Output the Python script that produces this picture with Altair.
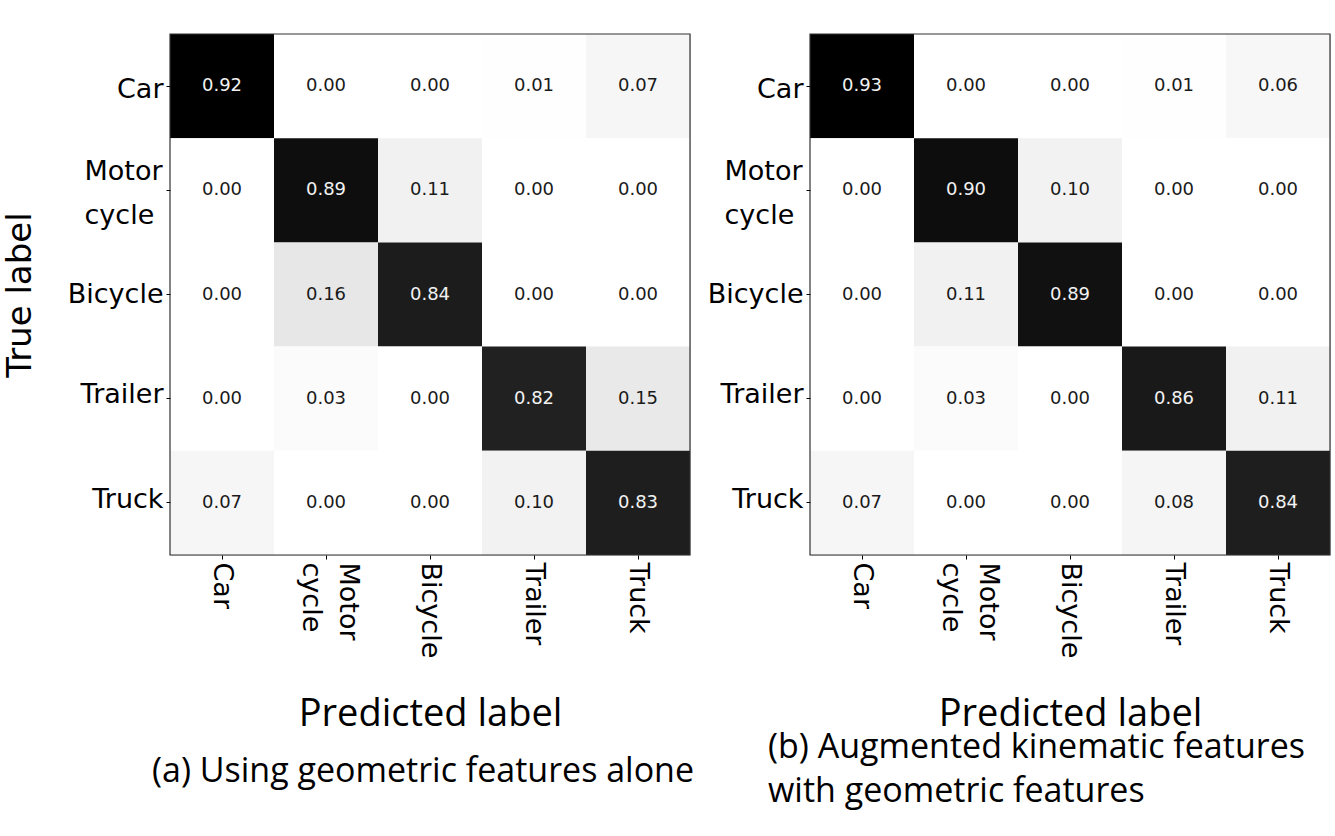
import altair as alt
import pandas as pd

classes = ["Car", "Motorcycle", "Bicycle", "Trailer", "Truck"]

cm_geometric = [
    [0.92, 0.00, 0.00, 0.01, 0.07],
    [0.00, 0.89, 0.11, 0.00, 0.00],
    [0.00, 0.16, 0.84, 0.00, 0.00],
    [0.00, 0.03, 0.00, 0.82, 0.15],
    [0.07, 0.00, 0.00, 0.10, 0.83],
]

cm_augmented = [
    [0.93, 0.00, 0.00, 0.01, 0.06],
    [0.00, 0.90, 0.10, 0.00, 0.00],
    [0.00, 0.11, 0.89, 0.00, 0.00],
    [0.00, 0.03, 0.00, 0.86, 0.11],
    [0.07, 0.00, 0.00, 0.08, 0.84],
]

caption_a = "(a) Using geometric features alone"
caption_b = ["(b) Augmented kinematic features", "with geometric features"]

# ColorBrewer / matplotlib "Greys" ramp
greys = ["#ffffff", "#f0f0f0", "#d9d9d9", "#bdbdbd", "#969696",
         "#737373", "#525252", "#252525", "#000000"]

TICK_FONT = "DejaVu Sans"
TITLE_FONT = "Open Sans"
W, H = 520, 521


def to_df(cm):
    rows = []
    for i, t in enumerate(classes):
        for j, p in enumerate(classes):
            rows.append({"true": t, "pred": p, "v": cm[i][j]})
    return pd.DataFrame(rows)


label_split = "datum.label == 'Motorcycle' ? ['Motor', 'cycle'] : datum.label"


def panel(cm, show_ytitle, title_params):
    df = to_df(cm)
    vmax = max(max(r) for r in cm)
    vmin = min(min(r) for r in cm)
    thresh = (vmax + vmin) / 2.0
    n = len(greys)
    stops = [vmin + (vmax - vmin) * k / (n - 1) for k in range(n)]
    x = alt.X(
        "pred:N",
        sort=classes,
        scale=alt.Scale(paddingInner=0, paddingOuter=0),
        axis=alt.Axis(
            title="Predicted label",
            titleFont=TITLE_FONT,
            titleFontSize=38,
            titleFontWeight="normal",
            titleColor="black",
            titlePadding=38,
            labelAngle=90,
            labelFont=TICK_FONT,
            labelFontSize=27,
            labelColor="black",
            labelExpr=label_split,
            labelLineHeight=37,
            labelOffset={"condition": {"test": "datum.value == 'Motorcycle'", "value": 22}, "value": 0},
            labelPadding=3,
            tickSize=4,
            tickColor="black",
            domain=False,
            grid=False,
        ),
    )
    y = alt.Y(
        "true:N",
        sort=classes,
        scale=alt.Scale(paddingInner=0, paddingOuter=0),
        axis=alt.Axis(
            title="True label" if show_ytitle else None,
            titleFont=TICK_FONT,
            titleFontSize=34,
            titleFontWeight="normal",
            titleColor="black",
            titlePadding=30,
            labelFont=TICK_FONT,
            labelFontSize=27,
            labelColor="black",
            labelExpr=label_split,
            labelLineHeight=44,
            labelAlign={"condition": {"test": "datum.value == 'Motorcycle'", "value": "left"}, "value": "right"},
            labelPadding={"condition": {"test": "datum.value == 'Motorcycle'", "value": 82}, "value": 3},
            labelOffset={
                "condition": [
                    {"test": "datum.value == 'Motorcycle'", "value": -18},
                    {"test": "datum.value == 'Car'", "value": 4},
                    {"test": "datum.value == 'Trailer'", "value": -4},
                    {"test": "datum.value == 'Truck'", "value": -3},
                ],
                "value": 0,
            },
            tickSize=4,
            tickColor="black",
            domain=False,
            grid=False,
        ),
    )
    base = alt.Chart(df)
    rect = base.mark_rect().encode(
        x=x,
        y=y,
        color=alt.Color(
            "v:Q",
            scale=alt.Scale(domain=stops, range=greys),
            legend=None,
        ),
    )
    text = base.mark_text(font=TICK_FONT, fontSize=18).encode(
        x=alt.X("pred:N", sort=classes),
        y=alt.Y("true:N", sort=classes),
        text=alt.Text("v:Q", format=".2f"),
        color=alt.condition(
            alt.datum.v > thresh, alt.value("#f2f2f2"), alt.value("#1a1a1a")
        ),
    )
    frame = (
        alt.Chart(pd.DataFrame({"k": [0]}))
        .mark_rect(filled=False, stroke="#333333", strokeWidth=1.2)
        .encode(
            x=alt.value(0), x2=alt.value(W), y=alt.value(0), y2=alt.value(H)
        )
    )
    return (rect + text + frame).properties(width=W, height=H, title=title_params)


left = panel(
    cm_geometric,
    True,
    alt.TitleParams(
        caption_a,
        orient="bottom",
        anchor="middle",
        frame="group",
        font=TITLE_FONT,
        fontSize=34,
        fontWeight="normal",
        color="black",
        dx=-7,
        offset=21,
    ),
)
right = panel(
    cm_augmented,
    False,
    alt.TitleParams(
        caption_b,
        orient="bottom",
        anchor="start",
        frame="group",
        align="left",
        font=TITLE_FONT,
        fontSize=34,
        fontWeight="normal",
        color="black",
        dx=-42,
        lineHeight=44,
        offset=-3,
    ),
)

chart = (
    alt.hconcat(left, right, spacing=120, bounds="flush")
    .resolve_scale(color="independent")
    .properties(padding={"left": 2, "top": 32, "right": 0, "bottom": 10})
    .configure_view(stroke=None)
    .configure(background="white")
)

chart.save("out.html", embed_options={"renderer": "svg", "actions": False})
